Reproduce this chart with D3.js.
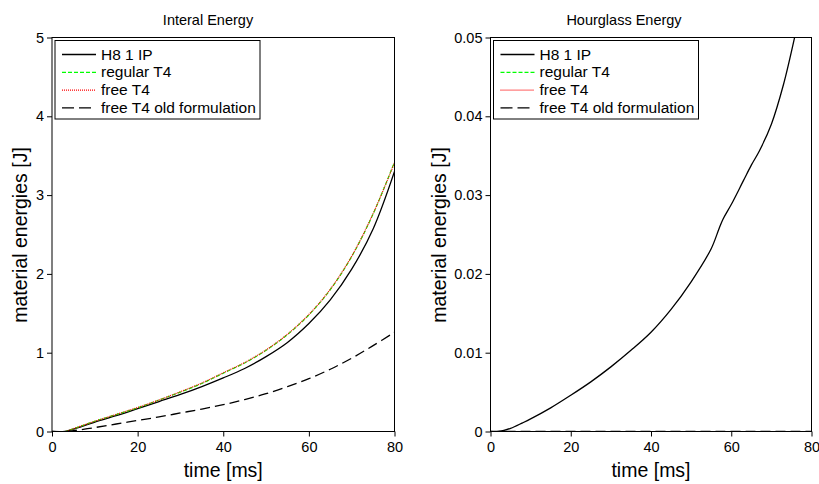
<!DOCTYPE html>
<html>
<head>
<meta charset="utf-8">
<script src="https://cdn.jsdelivr.net/npm/d3@7"></script>
<style>
  body { margin: 0; background: #fff; }
  svg { display: block; font-family: "Liberation Sans", Arial, Helvetica, sans-serif; }
</style>
</head>
<body>
<svg id="chart" width="819" height="484"></svg>
<script>
// data
var timeInt = [0, 3, 5, 10, 15, 20, 25, 30, 35, 40, 45, 50, 55, 60, 65, 70, 75, 80];
var h8Internal      = [0, 0, 0.03, 0.12, 0.20, 0.29, 0.38, 0.47, 0.57, 0.68, 0.80, 0.95, 1.13, 1.37, 1.67, 2.06, 2.57, 3.30];
var regularInternal = [0, 0, 0.035, 0.13, 0.215, 0.30, 0.40, 0.50, 0.61, 0.74, 0.87, 1.03, 1.23, 1.48, 1.80, 2.22, 2.76, 3.42];
var freeInternal    = [0, 0, 0.036, 0.13, 0.217, 0.305, 0.40, 0.505, 0.615, 0.745, 0.875, 1.035, 1.235, 1.485, 1.805, 2.225, 2.765, 3.41];
var oldInternal     = [0, 0, 0.01, 0.05, 0.095, 0.14, 0.185, 0.235, 0.285, 0.34, 0.405, 0.48, 0.57, 0.67, 0.79, 0.93, 1.09, 1.26];

var timeHg = [0, 2, 5, 8, 10, 15, 20, 25, 30, 35, 40, 45, 50, 55, 57, 58, 60, 63, 65, 67, 70, 73, 76, 77, 80];
var h8Hourglass = [0, 0, 0.0004, 0.0011, 0.0016, 0.0030, 0.0046, 0.0063, 0.0082, 0.0103, 0.0126, 0.0155, 0.0190,
                   0.0232, 0.0258, 0.0270, 0.0288, 0.0318, 0.0338, 0.0356, 0.0390, 0.0440, 0.0505, 0.053, 0.06];
var regularHourglass = [0, 0, 0, 0, 0, 0, 0, 0, 0, 0, 0, 0, 0, 0, 0, 0, 0, 0, 0, 0, 0, 0, 0, 0, 0];
var freeHourglass    = [0, 0, 0, 0, 0, 0, 0, 0, 0, 0, 0, 0, 0, 0, 0, 0, 0, 0, 0, 0, 0, 0, 0, 0, 0];
var oldHourglass     = [0, 0, 0, 0, 0, 0, 0, 0, 0, 0, 0, 0, 0, 0, 0, 0, 0, 0, 0, 0, 0, 0, 0, 0, 0];

var seriesNames = ["H8 1 IP", "regular T4", "free T4", "free T4 old formulation"];
var xTicks = [0, 20, 40, 60, 80];
var leftYTicks = [0, 1, 2, 3, 4, 5];
var rightYTicks = [0, 0.01, 0.02, 0.03, 0.04, 0.05];
var rightYTickLabels = ["0", "0.01", "0.02", "0.03", "0.04", "0.05"];

var styles = [
  { color: "#000", dash: null, width: 1.3 },
  { color: "#00ff00", dash: "4,2", width: 1.2 },
  { color: "#ff0000", dash: "1,1", width: 1.2 },
  { color: "#000", dash: "10,5", width: 1.3 }
];

var svg = d3.select("#chart");

function panel(opt) {
  var x = d3.scaleLinear().domain([0, 80]).range([opt.left, opt.right]);
  var y = d3.scaleLinear().domain([0, opt.ymax]).range([431.5, 37.5]);
  var g = svg.append("g");

  g.append("clipPath").attr("id", opt.id)
    .append("rect")
    .attr("x", opt.left).attr("y", 37.5)
    .attr("width", opt.right - opt.left).attr("height", 394);

  // curves
  var line = d3.line()
    .x(function(d) { return x(d[0]); })
    .y(function(d) { return y(d[1]); })
    .curve(d3.curveCatmullRom.alpha(0.5));

  opt.series.forEach(function(vals, i) {
    var pts = opt.time.map(function(t, k) { return [t, vals[k]]; });
    g.append("path")
      .datum(pts)
      .attr("clip-path", "url(#" + opt.id + ")")
      .attr("d", line)
      .attr("fill", "none")
      .attr("stroke", styles[i].color)
      .attr("stroke-width", styles[i].width)
      .attr("stroke-dasharray", styles[i].dash);
  });

  // frame
  g.append("rect")
    .attr("x", opt.left).attr("y", 37.5)
    .attr("width", opt.right - opt.left).attr("height", 394)
    .attr("fill", "none").attr("stroke", "#000").attr("stroke-width", 1);

  var xAxis = g.append("g")
    .attr("transform", "translate(0,431.5)")
    .call(d3.axisBottom(x).tickValues(xTicks).tickSize(5).tickPadding(5).tickFormat(d3.format("d")));
  xAxis.select(".domain").remove();
  xAxis.selectAll("text").style("font-size", "14.5px").attr("fill", "#000");

  var yAxis = g.append("g")
    .attr("transform", "translate(" + opt.left + ",0)")
    .call(d3.axisLeft(y).tickValues(opt.yTicks).tickSize(5).tickPadding(3)
      .tickFormat(function(d, i) { return opt.yLabels[i]; }));
  yAxis.select(".domain").remove();
  yAxis.selectAll("text").style("font-size", "14.5px").attr("fill", "#000");
  svg.selectAll(".tick line").attr("stroke", "#000");

  // title
  g.append("text")
    .attr("x", opt.titleX).attr("y", 25)
    .attr("text-anchor", "middle")
    .style("font-size", "14.5px")
    .text(opt.title);

  // axis labels
  g.append("text")
    .attr("x", (opt.left + opt.right) / 2).attr("y", 477)
    .attr("text-anchor", "middle")
    .style("font-size", "19.5px")
    .text("time [ms]");

  g.append("text")
    .attr("transform", "translate(" + opt.yLabelX + ",235) rotate(-90)")
    .attr("text-anchor", "middle")
    .style("font-size", "19.5px")
    .text("material energies [J]");

  // legend
  var lx = opt.left + 3, ly = 40.5;
  var leg = g.append("g");
  leg.append("rect")
    .attr("x", lx).attr("y", ly)
    .attr("width", 205).attr("height", 78.5)
    .attr("fill", "#fff").attr("stroke", "#000").attr("stroke-width", 1);
  seriesNames.forEach(function(name, i) {
    var by = 59.5 + i * 17.8;
    leg.append("line")
      .attr("x1", lx + 7).attr("x2", lx + 41)
      .attr("y1", by - 5).attr("y2", by - 5)
      .attr("stroke", styles[i].color)
      .attr("stroke-width", styles[i].width)
      .attr("stroke-dasharray", i === 3 ? "12,5" : styles[i].dash);
    leg.append("text")
      .attr("x", lx + 46).attr("y", by)
      .style("font-size", "15.5px")
      .text(name);
  });
}

panel({
  id: "clipL", left: 52, right: 394.5, ymax: 5,
  time: timeInt,
  series: [h8Internal, regularInternal, freeInternal, oldInternal],
  yTicks: leftYTicks, yLabels: leftYTicks.map(String),
  title: "Interal Energy", titleX: 208, yLabelX: 27
});

panel({
  id: "clipR", left: 490.5, right: 811.5, ymax: 0.05,
  time: timeHg,
  series: [h8Hourglass, regularHourglass, freeHourglass, oldHourglass],
  yTicks: rightYTicks, yLabels: rightYTickLabels,
  title: "Hourglass Energy", titleX: 624, yLabelX: 446
});
</script>
</body>
</html>
